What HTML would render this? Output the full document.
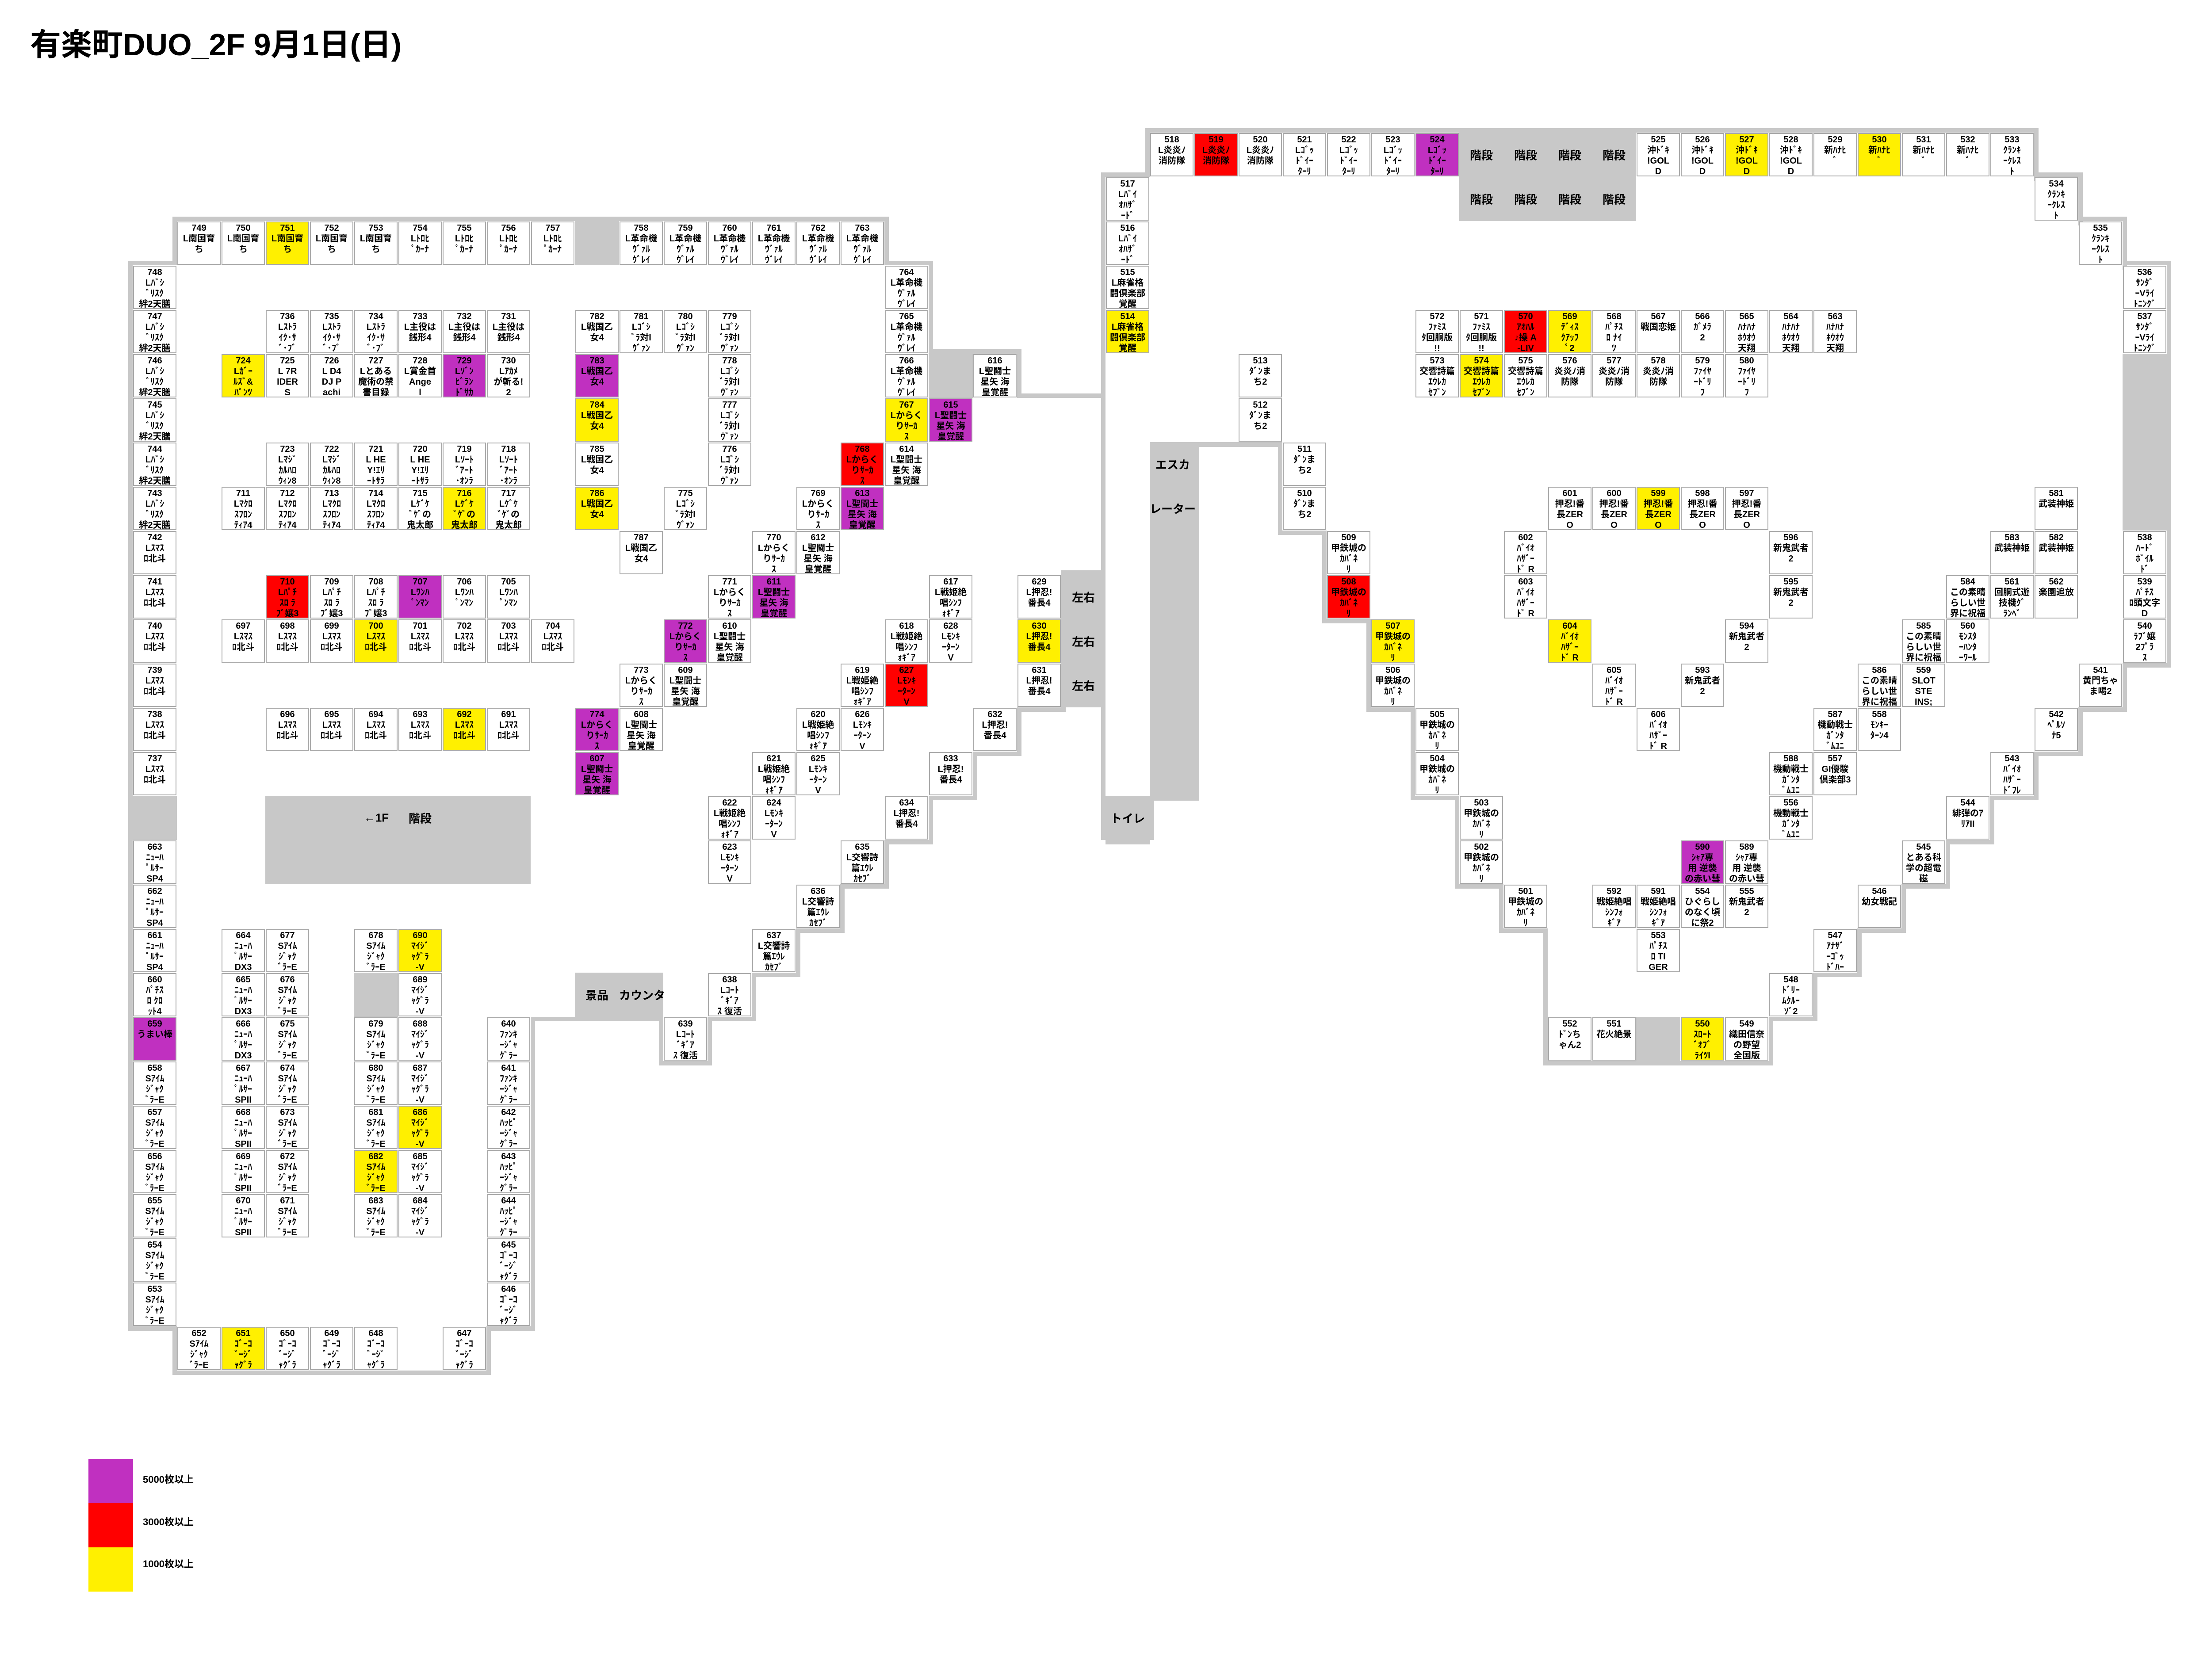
<!DOCTYPE html>
<html><head><meta charset="utf-8">
<style>
html,body{margin:0;padding:0;background:#fff}
body{width:5300px;height:3800px;position:relative;overflow:hidden;font-family:"Liberation Sans","Noto Sans CJK JP",sans-serif}
.c{position:absolute;width:98px;height:98px;margin:1px 0 0 1px;box-sizing:border-box;border:2px solid #aaa;background:#fff;text-align:center;font:bold 20px/24px "Liberation Sans","Noto Sans CJK JP",sans-serif;padding-top:1px;overflow:hidden;white-space:nowrap;color:#000}
.P{background:#c030c0}.R{background:#f00}.Y{background:#fff000}
.g{position:absolute;background:#c8c8c8}
.t{position:absolute;transform:translate(-50%,-50%);font:bold 26px "Liberation Sans","Noto Sans CJK JP",sans-serif;white-space:nowrap;color:#000}
.title{position:absolute;left:68px;top:66px;font:bold 70px/1 "Liberation Sans","Noto Sans CJK JP",sans-serif;white-space:nowrap}
.lg{position:absolute;left:323px;font:bold 22px "Liberation Sans","Noto Sans CJK JP",sans-serif;transform:translateY(-50%)}
</style></head><body>
<div class="title">有楽町DUO_2F 9月1日(日)</div>

<!-- walls -->
<div class="g" style="left:390px;top:490px;width:1620px;height:10px"></div>
<div class="g" style="left:1300px;top:500px;width:100px;height:100px"></div>
<div class="g" style="left:390px;top:490px;width:10px;height:110px"></div>
<div class="g" style="left:290px;top:590px;width:110px;height:10px"></div>
<div class="g" style="left:290px;top:590px;width:10px;height:2420px"></div>
<div class="g" style="left:300px;top:1800px;width:100px;height:100px"></div>
<div class="g" style="left:290px;top:3000px;width:110px;height:10px"></div>
<div class="g" style="left:390px;top:3000px;width:10px;height:110px"></div>
<div class="g" style="left:390px;top:3100px;width:720px;height:10px"></div>
<div class="g" style="left:1100px;top:3000px;width:10px;height:110px"></div>
<div class="g" style="left:1100px;top:3000px;width:110px;height:10px"></div>
<div class="g" style="left:1200px;top:2300px;width:10px;height:710px"></div>
<div class="g" style="left:1200px;top:2300px;width:300px;height:10px"></div>
<div class="g" style="left:600px;top:1800px;width:600px;height:200px"></div>
<div class="g" style="left:1300px;top:2200px;width:200px;height:110px"></div>
<div class="g" style="left:800px;top:2200px;width:100px;height:100px"></div>
<div class="g" style="left:2000px;top:490px;width:10px;height:110px"></div>
<div class="g" style="left:2000px;top:590px;width:110px;height:10px"></div>
<div class="g" style="left:2100px;top:590px;width:10px;height:210px"></div>
<div class="g" style="left:2100px;top:790px;width:210px;height:10px"></div>
<div class="g" style="left:2100px;top:800px;width:100px;height:100px"></div>
<div class="g" style="left:2300px;top:790px;width:10px;height:110px"></div>
<div class="g" style="left:2300px;top:890px;width:200px;height:10px"></div>
<div class="g" style="left:2490px;top:390px;width:10px;height:1420px"></div>
<div class="g" style="left:2490px;top:390px;width:110px;height:10px"></div>
<div class="g" style="left:2590px;top:290px;width:10px;height:110px"></div>
<div class="g" style="left:2590px;top:290px;width:2020px;height:10px"></div>
<div class="g" style="left:3300px;top:300px;width:400px;height:200px"></div>
<div class="g" style="left:4600px;top:300px;width:10px;height:110px"></div>
<div class="g" style="left:4600px;top:390px;width:110px;height:10px"></div>
<div class="g" style="left:4700px;top:400px;width:10px;height:110px"></div>
<div class="g" style="left:4700px;top:490px;width:110px;height:10px"></div>
<div class="g" style="left:4800px;top:500px;width:10px;height:110px"></div>
<div class="g" style="left:4800px;top:590px;width:110px;height:10px"></div>
<div class="g" style="left:4900px;top:600px;width:10px;height:910px"></div>
<div class="g" style="left:4800px;top:800px;width:100px;height:400px"></div>
<div class="g" style="left:4800px;top:1500px;width:110px;height:10px"></div>
<!-- left stairs -->
<div class="g" style="left:2400px;top:1290px;width:100px;height:310px"></div>
<div class="g" style="left:2300px;top:1600px;width:110px;height:10px"></div>
<div class="g" style="left:2300px;top:1600px;width:10px;height:110px"></div><div class="g" style="left:2200px;top:1700px;width:110px;height:10px"></div>
<div class="g" style="left:2200px;top:1700px;width:10px;height:110px"></div><div class="g" style="left:2100px;top:1800px;width:110px;height:10px"></div>
<div class="g" style="left:2100px;top:1800px;width:10px;height:110px"></div><div class="g" style="left:2000px;top:1900px;width:110px;height:10px"></div>
<div class="g" style="left:2000px;top:1900px;width:10px;height:110px"></div><div class="g" style="left:1900px;top:2000px;width:110px;height:10px"></div>
<div class="g" style="left:1900px;top:2000px;width:10px;height:110px"></div><div class="g" style="left:1800px;top:2100px;width:110px;height:10px"></div>
<div class="g" style="left:1800px;top:2100px;width:10px;height:110px"></div><div class="g" style="left:1700px;top:2200px;width:110px;height:10px"></div>
<div class="g" style="left:1700px;top:2200px;width:10px;height:110px"></div><div class="g" style="left:1600px;top:2300px;width:110px;height:10px"></div>
<div class="g" style="left:1600px;top:2300px;width:10px;height:110px"></div><div class="g" style="left:1500px;top:2400px;width:110px;height:10px"></div>
<div class="g" style="left:1490px;top:2300px;width:10px;height:110px"></div>
<!-- escalator / toilet -->
<div class="g" style="left:2600px;top:1000px;width:112px;height:811px"></div>
<div class="g" style="left:2700px;top:1000px;width:200px;height:11px"></div>
<div class="g" style="left:2490px;top:1800px;width:120px;height:100px"></div>
<div class="g" style="left:2500px;top:1900px;width:100px;height:10px"></div>
<!-- inner diagonal 511-501 -->
<div class="g" style="left:2890px;top:1000px;width:10px;height:210px"></div><div class="g" style="left:2890px;top:1200px;width:110px;height:10px"></div>
<div class="g" style="left:2990px;top:1200px;width:10px;height:210px"></div><div class="g" style="left:2990px;top:1400px;width:110px;height:10px"></div>
<div class="g" style="left:3090px;top:1400px;width:10px;height:210px"></div><div class="g" style="left:3090px;top:1600px;width:110px;height:10px"></div>
<div class="g" style="left:3190px;top:1600px;width:10px;height:210px"></div><div class="g" style="left:3190px;top:1800px;width:110px;height:10px"></div>
<div class="g" style="left:3290px;top:1800px;width:10px;height:210px"></div><div class="g" style="left:3290px;top:2000px;width:110px;height:10px"></div>
<div class="g" style="left:3390px;top:2000px;width:10px;height:110px"></div><div class="g" style="left:3390px;top:2100px;width:110px;height:10px"></div>
<div class="g" style="left:3490px;top:2100px;width:10px;height:310px"></div>
<div class="g" style="left:3490px;top:2400px;width:520px;height:10px"></div>
<div class="g" style="left:3700px;top:2300px;width:100px;height:100px"></div>
<!-- right stairs -->
<div class="g" style="left:4800px;top:1500px;width:10px;height:110px"></div><div class="g" style="left:4700px;top:1600px;width:110px;height:10px"></div>
<div class="g" style="left:4700px;top:1600px;width:10px;height:110px"></div><div class="g" style="left:4600px;top:1700px;width:110px;height:10px"></div>
<div class="g" style="left:4600px;top:1700px;width:10px;height:110px"></div><div class="g" style="left:4500px;top:1800px;width:110px;height:10px"></div>
<div class="g" style="left:4500px;top:1800px;width:10px;height:110px"></div><div class="g" style="left:4400px;top:1900px;width:110px;height:10px"></div>
<div class="g" style="left:4400px;top:1900px;width:10px;height:110px"></div><div class="g" style="left:4300px;top:2000px;width:110px;height:10px"></div>
<div class="g" style="left:4300px;top:2000px;width:10px;height:110px"></div><div class="g" style="left:4200px;top:2100px;width:110px;height:10px"></div>
<div class="g" style="left:4200px;top:2100px;width:10px;height:110px"></div><div class="g" style="left:4100px;top:2200px;width:110px;height:10px"></div>
<div class="g" style="left:4100px;top:2200px;width:10px;height:110px"></div><div class="g" style="left:4000px;top:2300px;width:110px;height:10px"></div>
<div class="g" style="left:4000px;top:2300px;width:10px;height:110px"></div>

<!-- gray labels -->
<div class="t" style="left:3350px;top:350px">階段</div><div class="t" style="left:3450px;top:350px">階段</div><div class="t" style="left:3550px;top:350px">階段</div><div class="t" style="left:3650px;top:350px">階段</div>
<div class="t" style="left:3350px;top:450px">階段</div><div class="t" style="left:3450px;top:450px">階段</div><div class="t" style="left:3550px;top:450px">階段</div><div class="t" style="left:3650px;top:450px">階段</div>
<div class="t" style="left:2450px;top:1350px">左右</div><div class="t" style="left:2450px;top:1450px">左右</div><div class="t" style="left:2450px;top:1550px">左右</div>
<div class="t" style="left:2652px;top:1050px">エスカ</div><div class="t" style="left:2652px;top:1150px">レーター</div>
<div class="t" style="left:2550px;top:1850px">トイレ</div>
<div class="t" style="left:1350px;top:2250px">景品</div><div class="t" style="left:1452px;top:2250px">カウンタ</div>
<div class="t" style="left:851px;top:1850px">←1F</div><div class="t" style="left:950px;top:1850px">階段</div>

<!-- left top row -->
<div class="c" style="left:400px;top:500px">749<br>L南国育<br>ち</div>
<div class="c" style="left:500px;top:500px">750<br>L南国育<br>ち</div>
<div class="c Y" style="left:600px;top:500px">751<br>L南国育<br>ち</div>
<div class="c" style="left:700px;top:500px">752<br>L南国育<br>ち</div>
<div class="c" style="left:800px;top:500px">753<br>L南国育<br>ち</div>
<div class="c" style="left:900px;top:500px">754<br>Lﾄﾛﾋ<br>ﾟｶｰﾅ</div>
<div class="c" style="left:1000px;top:500px">755<br>Lﾄﾛﾋ<br>ﾟｶｰﾅ</div>
<div class="c" style="left:1100px;top:500px">756<br>Lﾄﾛﾋ<br>ﾟｶｰﾅ</div>
<div class="c" style="left:1200px;top:500px">757<br>Lﾄﾛﾋ<br>ﾟｶｰﾅ</div>
<div class="c" style="left:1400px;top:500px">758<br>L革命機<br>ｳﾞｧﾙ<br>ｳﾞﾚｲ</div>
<div class="c" style="left:1500px;top:500px">759<br>L革命機<br>ｳﾞｧﾙ<br>ｳﾞﾚｲ</div>
<div class="c" style="left:1600px;top:500px">760<br>L革命機<br>ｳﾞｧﾙ<br>ｳﾞﾚｲ</div>
<div class="c" style="left:1700px;top:500px">761<br>L革命機<br>ｳﾞｧﾙ<br>ｳﾞﾚｲ</div>
<div class="c" style="left:1800px;top:500px">762<br>L革命機<br>ｳﾞｧﾙ<br>ｳﾞﾚｲ</div>
<div class="c" style="left:1900px;top:500px">763<br>L革命機<br>ｳﾞｧﾙ<br>ｳﾞﾚｲ</div>
<div class="c" style="left:2000px;top:600px">764<br>L革命機<br>ｳﾞｧﾙ<br>ｳﾞﾚｲ</div>
<div class="c" style="left:2000px;top:700px">765<br>L革命機<br>ｳﾞｧﾙ<br>ｳﾞﾚｲ</div>
<div class="c" style="left:2000px;top:800px">766<br>L革命機<br>ｳﾞｧﾙ<br>ｳﾞﾚｲ</div>
<div class="c Y" style="left:2000px;top:900px">767<br>Lからく<br>りｻｰｶ<br>ｽ</div>
<!-- left column -->
<div class="c" style="left:300px;top:600px">748<br>Lﾊﾞｼ<br>ﾞﾘｽｸ<br>絆2天膳</div>
<div class="c" style="left:300px;top:700px">747<br>Lﾊﾞｼ<br>ﾞﾘｽｸ<br>絆2天膳</div>
<div class="c" style="left:300px;top:800px">746<br>Lﾊﾞｼ<br>ﾞﾘｽｸ<br>絆2天膳</div>
<div class="c" style="left:300px;top:900px">745<br>Lﾊﾞｼ<br>ﾞﾘｽｸ<br>絆2天膳</div>
<div class="c" style="left:300px;top:1000px">744<br>Lﾊﾞｼ<br>ﾞﾘｽｸ<br>絆2天膳</div>
<div class="c" style="left:300px;top:1100px">743<br>Lﾊﾞｼ<br>ﾞﾘｽｸ<br>絆2天膳</div>
<div class="c" style="left:300px;top:1200px">742<br>Lｽﾏｽ<br>ﾛ北斗</div>
<div class="c" style="left:300px;top:1300px">741<br>Lｽﾏｽ<br>ﾛ北斗</div>
<div class="c" style="left:300px;top:1400px">740<br>Lｽﾏｽ<br>ﾛ北斗</div>
<div class="c" style="left:300px;top:1500px">739<br>Lｽﾏｽ<br>ﾛ北斗</div>
<div class="c" style="left:300px;top:1600px">738<br>Lｽﾏｽ<br>ﾛ北斗</div>
<div class="c" style="left:300px;top:1700px">737<br>Lｽﾏｽ<br>ﾛ北斗</div>
<div class="c" style="left:300px;top:1900px">663<br>ﾆｭｰﾊ<br>ﾟﾙｻｰ<br>SP4</div>
<div class="c" style="left:300px;top:2000px">662<br>ﾆｭｰﾊ<br>ﾟﾙｻｰ<br>SP4</div>
<div class="c" style="left:300px;top:2100px">661<br>ﾆｭｰﾊ<br>ﾟﾙｻｰ<br>SP4</div>
<div class="c" style="left:300px;top:2200px">660<br>ﾊﾟﾁｽ<br>ﾛ ｸﾛ<br>ｯﾄ4</div>
<div class="c P" style="left:300px;top:2300px">659<br>うまい棒</div>
<div class="c" style="left:300px;top:2400px">658<br>Sｱｲﾑ<br>ｼﾞｬｸ<br>ﾞﾗｰE</div>
<div class="c" style="left:300px;top:2500px">657<br>Sｱｲﾑ<br>ｼﾞｬｸ<br>ﾞﾗｰE</div>
<div class="c" style="left:300px;top:2600px">656<br>Sｱｲﾑ<br>ｼﾞｬｸ<br>ﾞﾗｰE</div>
<div class="c" style="left:300px;top:2700px">655<br>Sｱｲﾑ<br>ｼﾞｬｸ<br>ﾞﾗｰE</div>
<div class="c" style="left:300px;top:2800px">654<br>Sｱｲﾑ<br>ｼﾞｬｸ<br>ﾞﾗｰE</div>
<div class="c" style="left:300px;top:2900px">653<br>Sｱｲﾑ<br>ｼﾞｬｸ<br>ﾞﾗｰE</div>
<div class="c" style="left:400px;top:3000px">652<br>Sｱｲﾑ<br>ｼﾞｬｸ<br>ﾞﾗｰE</div>
<div class="c Y" style="left:500px;top:3000px">651<br>ｺﾞｰｺ<br>ﾞｰｼﾞ<br>ｬｸﾞﾗ</div>
<div class="c" style="left:600px;top:3000px">650<br>ｺﾞｰｺ<br>ﾞｰｼﾞ<br>ｬｸﾞﾗ</div>
<div class="c" style="left:700px;top:3000px">649<br>ｺﾞｰｺ<br>ﾞｰｼﾞ<br>ｬｸﾞﾗ</div>
<div class="c" style="left:800px;top:3000px">648<br>ｺﾞｰｺ<br>ﾞｰｼﾞ<br>ｬｸﾞﾗ</div>
<div class="c" style="left:1000px;top:3000px">647<br>ｺﾞｰｺ<br>ﾞｰｼﾞ<br>ｬｸﾞﾗ</div>
<div class="c" style="left:1100px;top:2300px">640<br>ﾌｧﾝｷ<br>ｰｼﾞｬ<br>ｸﾞﾗｰ</div>
<div class="c" style="left:1100px;top:2400px">641<br>ﾌｧﾝｷ<br>ｰｼﾞｬ<br>ｸﾞﾗｰ</div>
<div class="c" style="left:1100px;top:2500px">642<br>ﾊｯﾋﾟ<br>ｰｼﾞｬ<br>ｸﾞﾗｰ</div>
<div class="c" style="left:1100px;top:2600px">643<br>ﾊｯﾋﾟ<br>ｰｼﾞｬ<br>ｸﾞﾗｰ</div>
<div class="c" style="left:1100px;top:2700px">644<br>ﾊｯﾋﾟ<br>ｰｼﾞｬ<br>ｸﾞﾗｰ</div>
<div class="c" style="left:1100px;top:2800px">645<br>ｺﾞｰｺ<br>ﾞｰｼﾞ<br>ｬｸﾞﾗ</div>
<div class="c" style="left:1100px;top:2900px">646<br>ｺﾞｰｺ<br>ﾞｰｼﾞ<br>ｬｸﾞﾗ</div>
<!-- interior left -->
<div class="c" style="left:600px;top:700px">736<br>Lｽﾄﾗ<br>ｲｸ･ｻ<br>ﾞ･ﾌﾞ</div>
<div class="c" style="left:700px;top:700px">735<br>Lｽﾄﾗ<br>ｲｸ･ｻ<br>ﾞ･ﾌﾞ</div>
<div class="c" style="left:800px;top:700px">734<br>Lｽﾄﾗ<br>ｲｸ･ｻ<br>ﾞ･ﾌﾞ</div>
<div class="c" style="left:900px;top:700px">733<br>L主役は<br>銭形4</div>
<div class="c" style="left:1000px;top:700px">732<br>L主役は<br>銭形4</div>
<div class="c" style="left:1100px;top:700px">731<br>L主役は<br>銭形4</div>
<div class="c Y" style="left:500px;top:800px">724<br>Lｶﾞｰ<br>ﾙｽﾞ&amp;<br>ﾊﾟﾝﾂ</div>
<div class="c" style="left:600px;top:800px">725<br>L 7R<br>IDER<br>S</div>
<div class="c" style="left:700px;top:800px">726<br>L D4<br>DJ P<br>achi</div>
<div class="c" style="left:800px;top:800px">727<br>Lとある<br>魔術の禁<br>書目録</div>
<div class="c" style="left:900px;top:800px">728<br>L賞金首<br>Ange<br>l</div>
<div class="c P" style="left:1000px;top:800px">729<br>Lｿﾞﾝ<br>ﾋﾞﾗﾝ<br>ﾄﾞｻｶ</div>
<div class="c" style="left:1100px;top:800px">730<br>Lｱｶﾒ<br>が斬る!<br>2</div>
<div class="c" style="left:600px;top:1000px">723<br>Lﾏｼﾞ<br>ｶﾙﾊﾛ<br>ｳｨﾝ8</div>
<div class="c" style="left:700px;top:1000px">722<br>Lﾏｼﾞ<br>ｶﾙﾊﾛ<br>ｳｨﾝ8</div>
<div class="c" style="left:800px;top:1000px">721<br>L HE<br>Y!ｴﾘ<br>ｰﾄｻﾗ</div>
<div class="c" style="left:900px;top:1000px">720<br>L HE<br>Y!ｴﾘ<br>ｰﾄｻﾗ</div>
<div class="c" style="left:1000px;top:1000px">719<br>Lｿｰﾄ<br>ﾞｱｰﾄ<br>･ｵﾝﾗ</div>
<div class="c" style="left:1100px;top:1000px">718<br>Lｿｰﾄ<br>ﾞｱｰﾄ<br>･ｵﾝﾗ</div>
<div class="c" style="left:500px;top:1100px">711<br>Lﾏｸﾛ<br>ｽﾌﾛﾝ<br>ﾃｨｱ4</div>
<div class="c" style="left:600px;top:1100px">712<br>Lﾏｸﾛ<br>ｽﾌﾛﾝ<br>ﾃｨｱ4</div>
<div class="c" style="left:700px;top:1100px">713<br>Lﾏｸﾛ<br>ｽﾌﾛﾝ<br>ﾃｨｱ4</div>
<div class="c" style="left:800px;top:1100px">714<br>Lﾏｸﾛ<br>ｽﾌﾛﾝ<br>ﾃｨｱ4</div>
<div class="c" style="left:900px;top:1100px">715<br>Lｹﾞｹ<br>ﾞｹﾞの<br>鬼太郎</div>
<div class="c Y" style="left:1000px;top:1100px">716<br>Lｹﾞｹ<br>ﾞｹﾞの<br>鬼太郎</div>
<div class="c" style="left:1100px;top:1100px">717<br>Lｹﾞｹ<br>ﾞｹﾞの<br>鬼太郎</div>
<div class="c R" style="left:600px;top:1300px">710<br>Lﾊﾟﾁ<br>ｽﾛ ﾗ<br>ﾌﾞ嬢3</div>
<div class="c" style="left:700px;top:1300px">709<br>Lﾊﾟﾁ<br>ｽﾛ ﾗ<br>ﾌﾞ嬢3</div>
<div class="c" style="left:800px;top:1300px">708<br>Lﾊﾟﾁ<br>ｽﾛ ﾗ<br>ﾌﾞ嬢3</div>
<div class="c P" style="left:900px;top:1300px">707<br>Lﾜﾝﾊ<br>ﾟﾝﾏﾝ</div>
<div class="c" style="left:1000px;top:1300px">706<br>Lﾜﾝﾊ<br>ﾟﾝﾏﾝ</div>
<div class="c" style="left:1100px;top:1300px">705<br>Lﾜﾝﾊ<br>ﾟﾝﾏﾝ</div>
<div class="c" style="left:500px;top:1400px">697<br>Lｽﾏｽ<br>ﾛ北斗</div>
<div class="c" style="left:600px;top:1400px">698<br>Lｽﾏｽ<br>ﾛ北斗</div>
<div class="c" style="left:700px;top:1400px">699<br>Lｽﾏｽ<br>ﾛ北斗</div>
<div class="c Y" style="left:800px;top:1400px">700<br>Lｽﾏｽ<br>ﾛ北斗</div>
<div class="c" style="left:900px;top:1400px">701<br>Lｽﾏｽ<br>ﾛ北斗</div>
<div class="c" style="left:1000px;top:1400px">702<br>Lｽﾏｽ<br>ﾛ北斗</div>
<div class="c" style="left:1100px;top:1400px">703<br>Lｽﾏｽ<br>ﾛ北斗</div>
<div class="c" style="left:1200px;top:1400px">704<br>Lｽﾏｽ<br>ﾛ北斗</div>
<div class="c" style="left:600px;top:1600px">696<br>Lｽﾏｽ<br>ﾛ北斗</div>
<div class="c" style="left:700px;top:1600px">695<br>Lｽﾏｽ<br>ﾛ北斗</div>
<div class="c" style="left:800px;top:1600px">694<br>Lｽﾏｽ<br>ﾛ北斗</div>
<div class="c" style="left:900px;top:1600px">693<br>Lｽﾏｽ<br>ﾛ北斗</div>
<div class="c Y" style="left:1000px;top:1600px">692<br>Lｽﾏｽ<br>ﾛ北斗</div>
<div class="c" style="left:1100px;top:1600px">691<br>Lｽﾏｽ<br>ﾛ北斗</div>
<!-- lower interior -->
<div class="c" style="left:500px;top:2100px">664<br>ﾆｭｰﾊ<br>ﾟﾙｻｰ<br>DX3</div>
<div class="c" style="left:500px;top:2200px">665<br>ﾆｭｰﾊ<br>ﾟﾙｻｰ<br>DX3</div>
<div class="c" style="left:500px;top:2300px">666<br>ﾆｭｰﾊ<br>ﾟﾙｻｰ<br>DX3</div>
<div class="c" style="left:500px;top:2400px">667<br>ﾆｭｰﾊ<br>ﾟﾙｻｰ<br>SPII</div>
<div class="c" style="left:500px;top:2500px">668<br>ﾆｭｰﾊ<br>ﾟﾙｻｰ<br>SPII</div>
<div class="c" style="left:500px;top:2600px">669<br>ﾆｭｰﾊ<br>ﾟﾙｻｰ<br>SPII</div>
<div class="c" style="left:500px;top:2700px">670<br>ﾆｭｰﾊ<br>ﾟﾙｻｰ<br>SPII</div>
<div class="c" style="left:600px;top:2100px">677<br>Sｱｲﾑ<br>ｼﾞｬｸ<br>ﾞﾗｰE</div>
<div class="c" style="left:600px;top:2200px">676<br>Sｱｲﾑ<br>ｼﾞｬｸ<br>ﾞﾗｰE</div>
<div class="c" style="left:600px;top:2300px">675<br>Sｱｲﾑ<br>ｼﾞｬｸ<br>ﾞﾗｰE</div>
<div class="c" style="left:600px;top:2400px">674<br>Sｱｲﾑ<br>ｼﾞｬｸ<br>ﾞﾗｰE</div>
<div class="c" style="left:600px;top:2500px">673<br>Sｱｲﾑ<br>ｼﾞｬｸ<br>ﾞﾗｰE</div>
<div class="c" style="left:600px;top:2600px">672<br>Sｱｲﾑ<br>ｼﾞｬｸ<br>ﾞﾗｰE</div>
<div class="c" style="left:600px;top:2700px">671<br>Sｱｲﾑ<br>ｼﾞｬｸ<br>ﾞﾗｰE</div>
<div class="c" style="left:800px;top:2100px">678<br>Sｱｲﾑ<br>ｼﾞｬｸ<br>ﾞﾗｰE</div>
<div class="c" style="left:800px;top:2300px">679<br>Sｱｲﾑ<br>ｼﾞｬｸ<br>ﾞﾗｰE</div>
<div class="c" style="left:800px;top:2400px">680<br>Sｱｲﾑ<br>ｼﾞｬｸ<br>ﾞﾗｰE</div>
<div class="c" style="left:800px;top:2500px">681<br>Sｱｲﾑ<br>ｼﾞｬｸ<br>ﾞﾗｰE</div>
<div class="c Y" style="left:800px;top:2600px">682<br>Sｱｲﾑ<br>ｼﾞｬｸ<br>ﾞﾗｰE</div>
<div class="c" style="left:800px;top:2700px">683<br>Sｱｲﾑ<br>ｼﾞｬｸ<br>ﾞﾗｰE</div>
<div class="c Y" style="left:900px;top:2100px">690<br>ﾏｲｼﾞ<br>ｬｸﾞﾗ<br>-V</div>
<div class="c" style="left:900px;top:2200px">689<br>ﾏｲｼﾞ<br>ｬｸﾞﾗ<br>-V</div>
<div class="c" style="left:900px;top:2300px">688<br>ﾏｲｼﾞ<br>ｬｸﾞﾗ<br>-V</div>
<div class="c" style="left:900px;top:2400px">687<br>ﾏｲｼﾞ<br>ｬｸﾞﾗ<br>-V</div>
<div class="c Y" style="left:900px;top:2500px">686<br>ﾏｲｼﾞ<br>ｬｸﾞﾗ<br>-V</div>
<div class="c" style="left:900px;top:2600px">685<br>ﾏｲｼﾞ<br>ｬｸﾞﾗ<br>-V</div>
<div class="c" style="left:900px;top:2700px">684<br>ﾏｲｼﾞ<br>ｬｸﾞﾗ<br>-V</div>
<!-- middle block -->
<div class="c" style="left:1300px;top:700px">782<br>L戦国乙<br>女4</div>
<div class="c P" style="left:1300px;top:800px">783<br>L戦国乙<br>女4</div>
<div class="c Y" style="left:1300px;top:900px">784<br>L戦国乙<br>女4</div>
<div class="c" style="left:1300px;top:1000px">785<br>L戦国乙<br>女4</div>
<div class="c Y" style="left:1300px;top:1100px">786<br>L戦国乙<br>女4</div>
<div class="c" style="left:1400px;top:1200px">787<br>L戦国乙<br>女4</div>
<div class="c" style="left:1400px;top:700px">781<br>Lｺﾞｼ<br>ﾞﾗ対I<br>ｳﾞｧﾝ</div>
<div class="c" style="left:1500px;top:700px">780<br>Lｺﾞｼ<br>ﾞﾗ対I<br>ｳﾞｧﾝ</div>
<div class="c" style="left:1600px;top:700px">779<br>Lｺﾞｼ<br>ﾞﾗ対I<br>ｳﾞｧﾝ</div>
<div class="c" style="left:1600px;top:800px">778<br>Lｺﾞｼ<br>ﾞﾗ対I<br>ｳﾞｧﾝ</div>
<div class="c" style="left:1600px;top:900px">777<br>Lｺﾞｼ<br>ﾞﾗ対I<br>ｳﾞｧﾝ</div>
<div class="c" style="left:1600px;top:1000px">776<br>Lｺﾞｼ<br>ﾞﾗ対I<br>ｳﾞｧﾝ</div>
<div class="c" style="left:1500px;top:1100px">775<br>Lｺﾞｼ<br>ﾞﾗ対I<br>ｳﾞｧﾝ</div>
<div class="c P" style="left:1300px;top:1600px">774<br>Lからく<br>りｻｰｶ<br>ｽ</div>
<div class="c P" style="left:1300px;top:1700px">607<br>L聖闘士<br>星矢 海<br>皇覚醒</div>
<div class="c" style="left:1400px;top:1500px">773<br>Lからく<br>りｻｰｶ<br>ｽ</div>
<div class="c" style="left:1400px;top:1600px">608<br>L聖闘士<br>星矢 海<br>皇覚醒</div>
<div class="c P" style="left:1500px;top:1400px">772<br>Lからく<br>りｻｰｶ<br>ｽ</div>
<div class="c" style="left:1500px;top:1500px">609<br>L聖闘士<br>星矢 海<br>皇覚醒</div>
<div class="c" style="left:1600px;top:1300px">771<br>Lからく<br>りｻｰｶ<br>ｽ</div>
<div class="c" style="left:1600px;top:1400px">610<br>L聖闘士<br>星矢 海<br>皇覚醒</div>
<div class="c" style="left:1700px;top:1200px">770<br>Lからく<br>りｻｰｶ<br>ｽ</div>
<div class="c P" style="left:1700px;top:1300px">611<br>L聖闘士<br>星矢 海<br>皇覚醒</div>
<div class="c" style="left:1800px;top:1100px">769<br>Lからく<br>りｻｰｶ<br>ｽ</div>
<div class="c" style="left:1800px;top:1200px">612<br>L聖闘士<br>星矢 海<br>皇覚醒</div>
<div class="c R" style="left:1900px;top:1000px">768<br>Lからく<br>りｻｰｶ<br>ｽ</div>
<div class="c P" style="left:1900px;top:1100px">613<br>L聖闘士<br>星矢 海<br>皇覚醒</div>
<div class="c" style="left:2000px;top:1000px">614<br>L聖闘士<br>星矢 海<br>皇覚醒</div>
<div class="c P" style="left:2100px;top:900px">615<br>L聖闘士<br>星矢 海<br>皇覚醒</div>
<div class="c" style="left:2200px;top:800px">616<br>L聖闘士<br>星矢 海<br>皇覚醒</div>
<div class="c" style="left:2100px;top:1300px">617<br>L戦姫絶<br>唱ｼﾝﾌ<br>ｫｷﾞｱ</div>
<div class="c" style="left:2000px;top:1400px">618<br>L戦姫絶<br>唱ｼﾝﾌ<br>ｫｷﾞｱ</div>
<div class="c" style="left:2100px;top:1400px">628<br>Lﾓﾝｷ<br>ｰﾀｰﾝ<br>V</div>
<div class="c" style="left:1900px;top:1500px">619<br>L戦姫絶<br>唱ｼﾝﾌ<br>ｫｷﾞｱ</div>
<div class="c R" style="left:2000px;top:1500px">627<br>Lﾓﾝｷ<br>ｰﾀｰﾝ<br>V</div>
<div class="c" style="left:1800px;top:1600px">620<br>L戦姫絶<br>唱ｼﾝﾌ<br>ｫｷﾞｱ</div>
<div class="c" style="left:1900px;top:1600px">626<br>Lﾓﾝｷ<br>ｰﾀｰﾝ<br>V</div>
<div class="c" style="left:1700px;top:1700px">621<br>L戦姫絶<br>唱ｼﾝﾌ<br>ｫｷﾞｱ</div>
<div class="c" style="left:1800px;top:1700px">625<br>Lﾓﾝｷ<br>ｰﾀｰﾝ<br>V</div>
<div class="c" style="left:1600px;top:1800px">622<br>L戦姫絶<br>唱ｼﾝﾌ<br>ｫｷﾞｱ</div>
<div class="c" style="left:1700px;top:1800px">624<br>Lﾓﾝｷ<br>ｰﾀｰﾝ<br>V</div>
<div class="c" style="left:1600px;top:1900px">623<br>Lﾓﾝｷ<br>ｰﾀｰﾝ<br>V</div>
<div class="c" style="left:2300px;top:1300px">629<br>L押忍!<br>番長4</div>
<div class="c Y" style="left:2300px;top:1400px">630<br>L押忍!<br>番長4</div>
<div class="c" style="left:2300px;top:1500px">631<br>L押忍!<br>番長4</div>
<div class="c" style="left:2200px;top:1600px">632<br>L押忍!<br>番長4</div>
<div class="c" style="left:2100px;top:1700px">633<br>L押忍!<br>番長4</div>
<div class="c" style="left:2000px;top:1800px">634<br>L押忍!<br>番長4</div>
<div class="c" style="left:1900px;top:1900px">635<br>L交響詩<br>篇ｴｳﾚ<br>ｶｾﾌﾞ</div>
<div class="c" style="left:1800px;top:2000px">636<br>L交響詩<br>篇ｴｳﾚ<br>ｶｾﾌﾞ</div>
<div class="c" style="left:1700px;top:2100px">637<br>L交響詩<br>篇ｴｳﾚ<br>ｶｾﾌﾞ</div>
<div class="c" style="left:1600px;top:2200px">638<br>Lｺｰﾄ<br>ﾞｷﾞｱ<br>ｽ 復活</div>
<div class="c" style="left:1500px;top:2300px">639<br>Lｺｰﾄ<br>ﾞｷﾞｱ<br>ｽ 復活</div>
<!-- right section -->
<div class="c" style="left:2500px;top:400px">517<br>Lﾊﾞｲ<br>ｵﾊｻﾞ<br>ｰﾄﾞ</div>
<div class="c" style="left:2500px;top:500px">516<br>Lﾊﾞｲ<br>ｵﾊｻﾞ<br>ｰﾄﾞ</div>
<div class="c" style="left:2500px;top:600px">515<br>L麻雀格<br>闘倶楽部<br>覚醒</div>
<div class="c Y" style="left:2500px;top:700px">514<br>L麻雀格<br>闘倶楽部<br>覚醒</div>
<div class="c" style="left:2600px;top:300px">518<br>L炎炎ﾉ<br>消防隊</div>
<div class="c R" style="left:2700px;top:300px">519<br>L炎炎ﾉ<br>消防隊</div>
<div class="c" style="left:2800px;top:300px">520<br>L炎炎ﾉ<br>消防隊</div>
<div class="c" style="left:2900px;top:300px">521<br>Lｺﾞｯ<br>ﾄﾞｲｰ<br>ﾀｰﾘ</div>
<div class="c" style="left:3000px;top:300px">522<br>Lｺﾞｯ<br>ﾄﾞｲｰ<br>ﾀｰﾘ</div>
<div class="c" style="left:3100px;top:300px">523<br>Lｺﾞｯ<br>ﾄﾞｲｰ<br>ﾀｰﾘ</div>
<div class="c P" style="left:3200px;top:300px">524<br>Lｺﾞｯ<br>ﾄﾞｲｰ<br>ﾀｰﾘ</div>
<div class="c" style="left:3700px;top:300px">525<br>沖ﾄﾞｷ<br>!GOL<br>D</div>
<div class="c" style="left:3800px;top:300px">526<br>沖ﾄﾞｷ<br>!GOL<br>D</div>
<div class="c Y" style="left:3900px;top:300px">527<br>沖ﾄﾞｷ<br>!GOL<br>D</div>
<div class="c" style="left:4000px;top:300px">528<br>沖ﾄﾞｷ<br>!GOL<br>D</div>
<div class="c" style="left:4100px;top:300px">529<br>新ﾊﾅﾋ<br>ﾞ</div>
<div class="c Y" style="left:4200px;top:300px">530<br>新ﾊﾅﾋ<br>ﾞ</div>
<div class="c" style="left:4300px;top:300px">531<br>新ﾊﾅﾋ<br>ﾞ</div>
<div class="c" style="left:4400px;top:300px">532<br>新ﾊﾅﾋ<br>ﾞ</div>
<div class="c" style="left:4500px;top:300px">533<br>ｸﾗﾝｷ<br>ｰｸﾚｽ<br>ﾄ</div>
<div class="c" style="left:4600px;top:400px">534<br>ｸﾗﾝｷ<br>ｰｸﾚｽ<br>ﾄ</div>
<div class="c" style="left:4700px;top:500px">535<br>ｸﾗﾝｷ<br>ｰｸﾚｽ<br>ﾄ</div>
<div class="c" style="left:4800px;top:600px">536<br>ｻﾝﾀﾞ<br>ｰVﾗｲ<br>ﾄﾆﾝｸﾞ</div>
<div class="c" style="left:4800px;top:700px">537<br>ｻﾝﾀﾞ<br>ｰVﾗｲ<br>ﾄﾆﾝｸﾞ</div>
<div class="c" style="left:4800px;top:1200px">538<br>ﾊｰﾄﾞ<br>ﾎﾞｲﾙ<br>ﾄﾞ</div>
<div class="c" style="left:4800px;top:1300px">539<br>ﾊﾟﾁｽ<br>ﾛ頭文字<br>D</div>
<div class="c" style="left:4800px;top:1400px">540<br>ﾗﾌﾞ嬢<br>2ﾌﾟﾗ<br>ｽ</div>
<div class="c" style="left:4700px;top:1500px">541<br>黄門ちゃ<br>ま喝2</div>
<div class="c" style="left:4600px;top:1600px">542<br>ﾍﾟﾙｿ<br>ﾅ5</div>
<div class="c" style="left:4500px;top:1700px">543<br>ﾊﾞｲｵ<br>ﾊｻﾞｰ<br>ﾄﾞﾌﾚ</div>
<div class="c" style="left:4400px;top:1800px">544<br>緋弾のｱ<br>ﾘｱII</div>
<div class="c" style="left:4300px;top:1900px">545<br>とある科<br>学の超電<br>磁</div>
<div class="c" style="left:4200px;top:2000px">546<br>幼女戦記</div>
<div class="c" style="left:4100px;top:2100px">547<br>ｱﾅｻﾞ<br>ｰｺﾞｯ<br>ﾄﾞﾊｰ</div>
<div class="c" style="left:4000px;top:2200px">548<br>ﾄﾞﾘｰ<br>ﾑｸﾙｰ<br>ｿﾞ2</div>
<div class="c" style="left:3900px;top:2300px">549<br>織田信奈<br>の野望<br>全国版</div>
<div class="c Y" style="left:3800px;top:2300px">550<br>ｽﾛｰﾄ<br>ﾞｵﾌﾞ<br>ﾗｲﾂI</div>
<div class="c" style="left:3600px;top:2300px">551<br>花火絶景</div>
<div class="c" style="left:3500px;top:2300px">552<br>ﾄﾞﾝち<br>ゃん2</div>
<div class="c" style="left:2800px;top:800px">513<br>ﾀﾞﾝま<br>ち2</div>
<div class="c" style="left:2800px;top:900px">512<br>ﾀﾞﾝま<br>ち2</div>
<div class="c" style="left:2900px;top:1000px">511<br>ﾀﾞﾝま<br>ち2</div>
<div class="c" style="left:2900px;top:1100px">510<br>ﾀﾞﾝま<br>ち2</div>
<div class="c" style="left:3000px;top:1200px">509<br>甲鉄城の<br>ｶﾊﾞﾈ<br>ﾘ</div>
<div class="c R" style="left:3000px;top:1300px">508<br>甲鉄城の<br>ｶﾊﾞﾈ<br>ﾘ</div>
<div class="c Y" style="left:3100px;top:1400px">507<br>甲鉄城の<br>ｶﾊﾞﾈ<br>ﾘ</div>
<div class="c" style="left:3100px;top:1500px">506<br>甲鉄城の<br>ｶﾊﾞﾈ<br>ﾘ</div>
<div class="c" style="left:3200px;top:1600px">505<br>甲鉄城の<br>ｶﾊﾞﾈ<br>ﾘ</div>
<div class="c" style="left:3200px;top:1700px">504<br>甲鉄城の<br>ｶﾊﾞﾈ<br>ﾘ</div>
<div class="c" style="left:3300px;top:1800px">503<br>甲鉄城の<br>ｶﾊﾞﾈ<br>ﾘ</div>
<div class="c" style="left:3300px;top:1900px">502<br>甲鉄城の<br>ｶﾊﾞﾈ<br>ﾘ</div>
<div class="c" style="left:3400px;top:2000px">501<br>甲鉄城の<br>ｶﾊﾞﾈ<br>ﾘ</div>
<div class="c" style="left:3200px;top:700px">572<br>ﾌｧﾐｽ<br>ﾀ回胴版<br>!!</div>
<div class="c" style="left:3300px;top:700px">571<br>ﾌｧﾐｽ<br>ﾀ回胴版<br>!!</div>
<div class="c R" style="left:3400px;top:700px">570<br>ｱｵﾊﾙ<br>♪操 A<br>-LIV</div>
<div class="c Y" style="left:3500px;top:700px">569<br>ﾃﾞｨｽ<br>ｸｱｯﾌ<br>ﾟ2</div>
<div class="c" style="left:3600px;top:700px">568<br>ﾊﾟﾁｽ<br>ﾛ ﾅｲ<br>ﾂ</div>
<div class="c" style="left:3700px;top:700px">567<br>戦国恋姫</div>
<div class="c" style="left:3800px;top:700px">566<br>ｶﾞﾒﾗ<br>2</div>
<div class="c" style="left:3900px;top:700px">565<br>ﾊﾅﾊﾅ<br>ﾎｳｵｳ<br>天翔</div>
<div class="c" style="left:4000px;top:700px">564<br>ﾊﾅﾊﾅ<br>ﾎｳｵｳ<br>天翔</div>
<div class="c" style="left:4100px;top:700px">563<br>ﾊﾅﾊﾅ<br>ﾎｳｵｳ<br>天翔</div>
<div class="c" style="left:3200px;top:800px">573<br>交響詩篇<br>ｴｳﾚｶ<br>ｾﾌﾞﾝ</div>
<div class="c Y" style="left:3300px;top:800px">574<br>交響詩篇<br>ｴｳﾚｶ<br>ｾﾌﾞﾝ</div>
<div class="c" style="left:3400px;top:800px">575<br>交響詩篇<br>ｴｳﾚｶ<br>ｾﾌﾞﾝ</div>
<div class="c" style="left:3500px;top:800px">576<br>炎炎ﾉ消<br>防隊</div>
<div class="c" style="left:3600px;top:800px">577<br>炎炎ﾉ消<br>防隊</div>
<div class="c" style="left:3700px;top:800px">578<br>炎炎ﾉ消<br>防隊</div>
<div class="c" style="left:3800px;top:800px">579<br>ﾌｧｲﾔ<br>ｰﾄﾞﾘ<br>ﾌ</div>
<div class="c" style="left:3900px;top:800px">580<br>ﾌｧｲﾔ<br>ｰﾄﾞﾘ<br>ﾌ</div>
<div class="c" style="left:3500px;top:1100px">601<br>押忍!番<br>長ZER<br>O</div>
<div class="c" style="left:3600px;top:1100px">600<br>押忍!番<br>長ZER<br>O</div>
<div class="c Y" style="left:3700px;top:1100px">599<br>押忍!番<br>長ZER<br>O</div>
<div class="c" style="left:3800px;top:1100px">598<br>押忍!番<br>長ZER<br>O</div>
<div class="c" style="left:3900px;top:1100px">597<br>押忍!番<br>長ZER<br>O</div>
<div class="c" style="left:3400px;top:1200px">602<br>ﾊﾞｲｵ<br>ﾊｻﾞｰ<br>ﾄﾞ R</div>
<div class="c" style="left:3400px;top:1300px">603<br>ﾊﾞｲｵ<br>ﾊｻﾞｰ<br>ﾄﾞ R</div>
<div class="c Y" style="left:3500px;top:1400px">604<br>ﾊﾞｲｵ<br>ﾊｻﾞｰ<br>ﾄﾞ R</div>
<div class="c" style="left:3600px;top:1500px">605<br>ﾊﾞｲｵ<br>ﾊｻﾞｰ<br>ﾄﾞ R</div>
<div class="c" style="left:3700px;top:1600px">606<br>ﾊﾞｲｵ<br>ﾊｻﾞｰ<br>ﾄﾞ R</div>
<div class="c" style="left:4000px;top:1200px">596<br>新鬼武者<br>2</div>
<div class="c" style="left:4000px;top:1300px">595<br>新鬼武者<br>2</div>
<div class="c" style="left:3900px;top:1400px">594<br>新鬼武者<br>2</div>
<div class="c" style="left:3800px;top:1500px">593<br>新鬼武者<br>2</div>
<div class="c" style="left:4600px;top:1100px">581<br>武装神姫</div>
<div class="c" style="left:4500px;top:1200px">583<br>武装神姫</div>
<div class="c" style="left:4600px;top:1200px">582<br>武装神姫</div>
<div class="c" style="left:4400px;top:1300px">584<br>この素晴<br>らしい世<br>界に祝福</div>
<div class="c" style="left:4500px;top:1300px">561<br>回胴式遊<br>技機ｸﾞ<br>ﾗﾝﾍﾞ</div>
<div class="c" style="left:4600px;top:1300px">562<br>楽園追放</div>
<div class="c" style="left:4300px;top:1400px">585<br>この素晴<br>らしい世<br>界に祝福</div>
<div class="c" style="left:4400px;top:1400px">560<br>ﾓﾝｽﾀ<br>ｰﾊﾝﾀ<br>ｰﾜｰﾙ</div>
<div class="c" style="left:4200px;top:1500px">586<br>この素晴<br>らしい世<br>界に祝福</div>
<div class="c" style="left:4300px;top:1500px">559<br>SLOT<br>STE<br>INS;</div>
<div class="c" style="left:4100px;top:1600px">587<br>機動戦士<br>ｶﾞﾝﾀ<br>ﾞﾑﾕﾆ</div>
<div class="c" style="left:4200px;top:1600px">558<br>ﾓﾝｷｰ<br>ﾀｰﾝ4</div>
<div class="c" style="left:4000px;top:1700px">588<br>機動戦士<br>ｶﾞﾝﾀ<br>ﾞﾑﾕﾆ</div>
<div class="c" style="left:4100px;top:1700px">557<br>GI優駿<br>倶楽部3</div>
<div class="c" style="left:4000px;top:1800px">556<br>機動戦士<br>ｶﾞﾝﾀ<br>ﾞﾑﾕﾆ</div>
<div class="c P" style="left:3800px;top:1900px">590<br>ｼｬｱ専<br>用 逆襲<br>の赤い彗</div>
<div class="c" style="left:3900px;top:1900px">589<br>ｼｬｱ専<br>用 逆襲<br>の赤い彗</div>
<div class="c" style="left:3800px;top:2000px">554<br>ひぐらし<br>のなく頃<br>に祭2</div>
<div class="c" style="left:3900px;top:2000px">555<br>新鬼武者<br>2</div>
<div class="c" style="left:3600px;top:2000px">592<br>戦姫絶唱<br>ｼﾝﾌｫ<br>ｷﾞｱ</div>
<div class="c" style="left:3700px;top:2000px">591<br>戦姫絶唱<br>ｼﾝﾌｫ<br>ｷﾞｱ</div>
<div class="c" style="left:3700px;top:2100px">553<br>ﾊﾟﾁｽ<br>ﾛ TI<br>GER</div>

<!-- legend -->
<div style="position:absolute;left:200px;top:3300px;width:101px;height:100px;background:#c030c0"></div>
<div style="position:absolute;left:200px;top:3400px;width:101px;height:100px;background:#f00"></div>
<div style="position:absolute;left:200px;top:3500px;width:101px;height:100px;background:#fff000"></div>
<div class="lg" style="top:3345px">5000枚以上</div>
<div class="lg" style="top:3441px">3000枚以上</div>
<div class="lg" style="top:3536px">1000枚以上</div>
</body></html>
